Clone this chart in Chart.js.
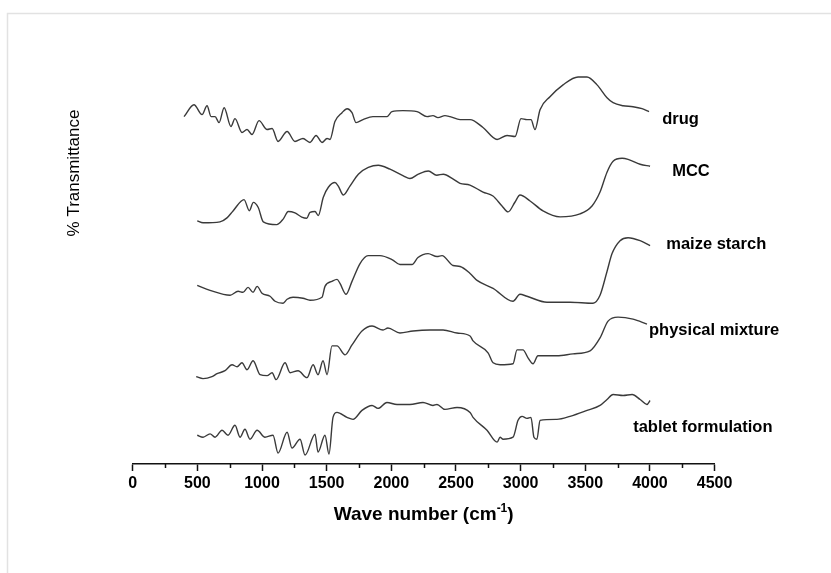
<!DOCTYPE html>
<html>
<head>
<meta charset="utf-8">
<script src="https://cdn.jsdelivr.net/npm/chart.js@4.4.1/dist/chart.umd.min.js"></script>
<style>
  html, body { margin: 0; padding: 0; background: #ffffff; }
  #wrap { width: 831px; height: 573px; position: relative; }
</style>
</head>
<body>
<div id="wrap"><canvas id="ftir" width="831" height="573"></canvas></div>
<script>
// FTIR spectra, stacked vertically (wavenumber in cm-1, offset transmittance)
const seriesNames = ['drug', 'MCC', 'maize starch', 'physical mixture', 'tablet formulation'];

const drugWn = [397,474,536,575,606,637,668,707,760,791,845,884,923,977,1039,1078,1124,1194,1255,1317,1371,1418,1464,1503,1526,1564,1619,1658,1696,1727,1781,1858,1912,1966,2005,2090,2199,2276,2322,2361,2415,2454,2532,2609,2709,2818,2895,2957,3003,3049,3080,3111,3150,3227,3328,3444,3513,3591,3668,3715,3792,3869,3939,3993];
const drugT = [87.5,90.5,88,90.25,87.5,87.5,86,89.75,85,87,83.5,84.25,83,86.5,84.25,84.5,81.25,83.75,81.25,82,81,82.75,81,82,81.75,86.25,88.5,89.5,88.5,86,86.75,87.5,87.5,87.5,88.75,89,88.75,87.5,87.75,87.25,87.75,87.5,86.75,86.75,84.75,81.75,82.75,82.5,87,86.75,86.75,84.25,89.25,92.5,95.5,97.5,97.5,95.5,92.25,91,90.25,90,89.5,88.75];

const mccWn = [499,544,675,729,776,861,902,933,971,1010,1114,1165,1203,1255,1307,1346,1371,1410,1435,1474,1513,1564,1590,1629,1680,1745,1822,1899,1990,2093,2144,2209,2286,2351,2402,2479,2531,2608,2709,2786,2856,2903,2957,2995,3073,3173,3305,3459,3552,3614,3668,3715,3784,3831,3924,4001];
const mccT = [61.25,60.75,61,62,63.75,66.6,63.8,65.9,64.6,61,60.3,61.75,63.6,63.25,62.2,61.9,63.4,63.6,62.6,67.2,69.7,70.9,70,67.75,70,73,74.7,75.25,74.25,72.6,71.9,73,73.8,72.75,73,71.75,70.7,70.25,68.5,67.5,65,63.5,66,67.75,66.25,63.75,62.25,63,65,68.5,73.5,76.25,77,76.75,75.5,75];

const starchWn = [499,598,753,815,853,892,931,962,1000,1062,1101,1163,1194,1240,1317,1371,1464,1487,1541,1580,1603,1650,1696,1758,1820,1912,2005,2067,2160,2206,2284,2353,2392,2477,2532,2609,2663,2787,2941,2995,3049,3204,3382,3560,3614,3668,3707,3769,3831,3924,4001];
const starchT = [45,43.75,42.5,43.5,43.25,44.5,43.25,44.75,43,42.25,41,40.5,41.5,42,41.75,41.25,42,44.75,46,46.5,45.5,42.75,46,50.5,52.5,52.5,51.5,50.25,50.25,52,53,52.25,52.5,50,49.75,48,46.25,44.25,41,42.75,42.25,40.75,40.75,40.5,42.5,48.5,53,56.25,57,56.25,55];

const mixWn = [491,544,613,652,714,768,807,845,884,931,985,1039,1078,1109,1178,1217,1279,1348,1395,1433,1472,1503,1541,1580,1642,1696,1773,1851,1936,1974,2067,2168,2299,2400,2508,2609,2632,2748,2787,2841,2941,2972,3018,3057,3096,3134,3281,3405,3537,3614,3676,3753,3869,3977];
const mixT = [22,21.5,22,22.75,23.5,25,24.5,25.5,23.75,26,22.5,22.25,23,21.25,25.5,23,23.5,21.75,25,22.5,26,22.5,29.75,29.75,27.5,30,33.5,34.75,33.75,34.25,33,33.5,33.75,33.75,33,32.25,31,28,25.5,25,25.25,28.75,28.75,26.75,25.25,27.25,27.25,27.75,28.5,31.75,36,37,36.5,35.25];

const tabletWn = [499,544,598,637,691,737,791,830,868,907,962,1023,1085,1124,1194,1232,1294,1333,1410,1433,1487,1518,1549,1580,1657,1704,1773,1851,1897,1966,2044,2144,2245,2322,2353,2415,2508,2609,2632,2740,2818,2841,2864,2941,2980,3011,3049,3080,3103,3126,3150,3281,3382,3514,3614,3668,3715,3792,3862,3924,3977,4001];
const tabletT = [7.25,6.75,7.6,6.75,8.5,7.25,9.75,6.75,8.75,6.25,8.5,6.75,7.25,2.75,8,4,6.25,2.25,7.5,3,7.25,2.5,11.75,13,11.75,11.25,13.5,14.75,14,15.5,15,15,15.5,14.75,15,13.75,14.25,13,11.75,8.5,5.5,6.75,6.25,6.75,11,12,11.5,11.75,6.75,6.25,11,11.25,12,13.5,14.75,16.25,17.5,17.25,17.5,16.25,15,16];

const xTicksMajor = [0, 500, 1000, 1500, 2000, 2500, 3000, 3500, 4000, 4500];

const spectra = [
  [drugWn, drugT],
  [mccWn, mccT],
  [starchWn, starchT],
  [mixWn, mixT],
  [tabletWn, tabletT]
];

// where each trace name sits (wavenumber of left edge, vertical level)
const nameSpots = [[4095, 86.75], [4172, 73.75], [4126, 55.25], [3993, 33.75], [3870, 9.25]];

const FONT = '"Liberation Sans", Arial, Helvetica, sans-serif';

const decor = {
  id: 'decor',
  beforeDraw(chart) {
    const ctx = chart.ctx;
    ctx.save();
    ctx.fillStyle = '#ffffff';
    ctx.fillRect(0, 0, chart.width, chart.height);
    ctx.strokeStyle = '#e2e2e2';
    ctx.lineWidth = 1.5;
    ctx.beginPath();
    ctx.moveTo(7.5, chart.height);
    ctx.lineTo(7.5, 13.5);
    ctx.lineTo(chart.width, 13.5);
    ctx.stroke();
    ctx.restore();
  },
  afterDraw(chart) {
    const ctx = chart.ctx;
    const xs = chart.scales.x, ys = chart.scales.y;
    const area = chart.chartArea;
    ctx.save();
    // minor ticks between the labelled ones
    ctx.strokeStyle = '#111';
    ctx.lineWidth = 1.5;
    for (let v = 250; v < 4500; v += 500) {
      const px = Math.round(xs.getPixelForValue(v)) + 0.5;
      ctx.beginPath();
      ctx.moveTo(px, area.bottom);
      ctx.lineTo(px, area.bottom + 4);
      ctx.stroke();
    }
    // x axis title with superscript
    ctx.fillStyle = '#000';
    ctx.textBaseline = 'alphabetic';
    const big = 'bold 19px ' + FONT, small = 'bold 12px ' + FONT;
    const p1 = 'Wave number (cm', p2 = '-1', p3 = ')';
    ctx.font = big; const w1 = ctx.measureText(p1).width, w3 = ctx.measureText(p3).width;
    ctx.font = small; const w2 = ctx.measureText(p2).width;
    let tx = (area.left + area.right) / 2 - (w1 + w2 + w3) / 2;
    const ty = area.bottom + 56;
    ctx.font = big; ctx.textAlign = 'left'; ctx.fillText(p1, tx, ty); tx += w1;
    ctx.font = small; ctx.fillText(p2, tx, ty - 8); tx += w2;
    ctx.font = big; ctx.fillText(p3, tx, ty);
    // y axis title
    ctx.save();
    ctx.translate(74, 173);
    ctx.rotate(-Math.PI / 2);
    ctx.font = '17px ' + FONT;
    ctx.textAlign = 'center';
    ctx.textBaseline = 'middle';
    ctx.fillText('% Transmittance', 0, 0);
    ctx.restore();
    // trace names
    ctx.font = 'bold 16.5px ' + FONT;
    ctx.textAlign = 'left';
    ctx.textBaseline = 'middle';
    seriesNames.forEach((name, i) => {
      ctx.fillText(name, xs.getPixelForValue(nameSpots[i][0]), ys.getPixelForValue(nameSpots[i][1]));
    });
    ctx.restore();
  }
};

new Chart(document.getElementById('ftir'), {
  type: 'line',
  data: {
    datasets: spectra.map(([wn, t], i) => ({
      label: seriesNames[i],
      data: wn.map((w, k) => ({ x: w, y: t[k] })),
      borderColor: '#3a3a3a',
      borderWidth: 1.4,
      pointRadius: 0,
      fill: false,
      cubicInterpolationMode: 'monotone'
    }))
  },
  options: {
    responsive: false,
    animation: false,
    events: [],
    layout: { padding: { left: 132.7, right: 116.4, top: 67, bottom: 76.8 } },
    plugins: { legend: { display: false }, tooltip: { enabled: false }, title: { display: false } },
    scales: {
      x: {
        type: 'linear',
        min: 0,
        max: 4500,
        afterBuildTicks: (scale) => { scale.ticks = xTicksMajor.map(v => ({ value: v })); },
        ticks: {
          color: '#000',
          font: { family: FONT, size: 16, weight: 'bold' },
          padding: 3,
          maxRotation: 0,
          autoSkip: false,
          callback: (v) => String(v)
        },
        grid: { display: true, drawOnChartArea: false, drawTicks: true, tickLength: 7, tickWidth: 1.5, tickColor: '#111' },
        border: { display: true, color: '#111', width: 1.5 }
      },
      y: { display: false, min: 0, max: 100 }
    }
  },
  plugins: [decor]
});
</script>
</body>
</html>
